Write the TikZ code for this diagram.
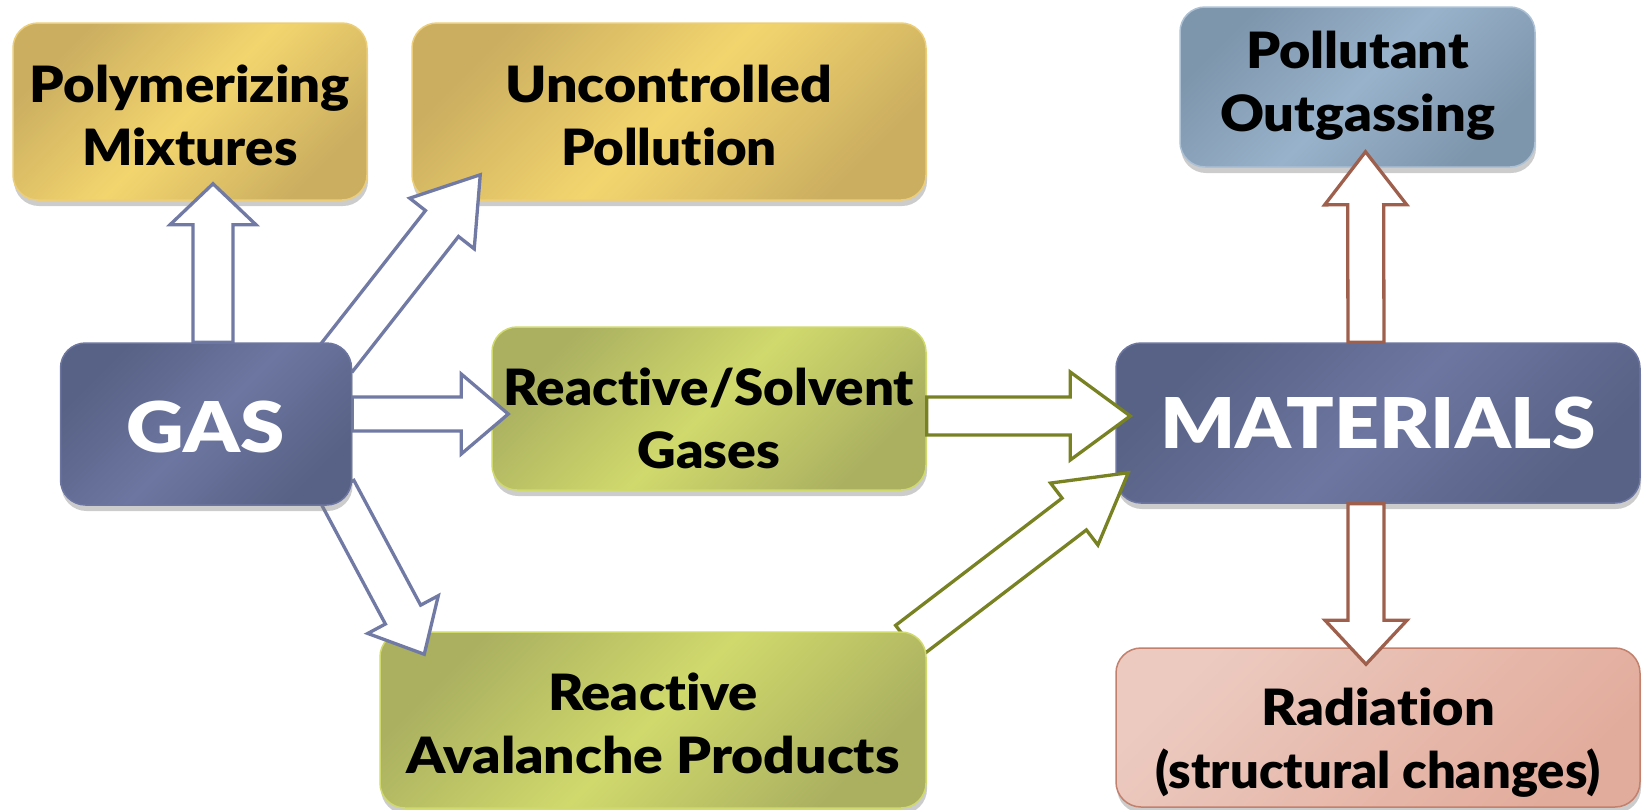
\documentclass[tikz,border=0pt]{standalone}
\usepackage{fontspec}
\usepackage{graphicx}
\setmainfont{Lato}[BoldFont={Lato Black}, Ligatures=NoCommon]
\usepackage{tikz}
\usetikzlibrary{calc, shadows, positioning}

\pgfdeclarelayer{back}
\pgfdeclarelayer{front}
\pgfsetlayers{back,main,front}

\definecolor{goldmid}{RGB}{243,213,110}
\definecolor{goldedge}{RGB}{203,174,96}
\definecolor{goldline}{RGB}{236,206,122}
\definecolor{slatemid}{RGB}{108,118,160}
\definecolor{slateedge}{RGB}{88,98,134}
\definecolor{limemid}{RGB}{208,217,108}
\definecolor{limeedge}{RGB}{170,176,96}
\definecolor{skymid}{RGB}{152,178,203}
\definecolor{skyedge}{RGB}{126,150,172}
\definecolor{rosemid}{RGB}{226,172,156}
\definecolor{roseedge}{RGB}{236,202,192}
\definecolor{roseline}{RGB}{195,128,108}
\definecolor{slatearrow}{RGB}{112,122,165}
\definecolor{olivearrow}{RGB}{120,130,34}
\definecolor{brownarrow}{RGB}{158,96,76}

\newlength\tdrop
\newlength\capht
% one line of box text, squeezed to a width, drawn \tdrop lower
\newcommand{\fitw}[2]{\raisebox{-\tdrop}[\capht][0pt]{\resizebox{#1}{\height}{#2}}}
% fat outlined arrow: colour, from, to, half shaft, half head, head length
\newcommand{\fatarrow}[6]{%
  \coordinate (s) at (#2);
  \coordinate (e) at (#3);
  \coordinate (hb) at ($(e)!#6!(s)$);
  \draw[fatline, draw=#1] ($(s)!#4!90:(e)$) -- ($(hb)!#4!-90:(s)$) -- ($(hb)!#5!-90:(s)$)
    -- (e) -- ($(hb)!#5!90:(s)$) -- ($(hb)!#4!90:(s)$) -- ($(s)!#4!-90:(e)$) -- cycle;}

\tikzset{
  box/.style={rounded corners=25pt, align=center, inner sep=0pt, line width=1.5pt,
    font=\fontsize{50pt}{63pt}\selectfont\bfseries\setlength\capht{36pt},
    drop shadow={shadow xshift=1pt, shadow yshift=-6pt, opacity=0.4}},
  textdrop/.style={execute at begin node={\setlength\tdrop{#1}}},
  goldbox/.style={box, draw=goldline, top color=goldedge, bottom color=goldedge, middle color=goldmid, shading angle=45},
  limebox/.style={box, draw=limemid, top color=limeedge, bottom color=limeedge, middle color=limemid, shading angle=45},
  skybox/.style={box, draw=skymid!80!white, top color=skyedge, bottom color=skyedge, middle color=skymid, shading angle=45},
  rosebox/.style={box, draw=roseline, top color=roseedge, bottom color=rosemid, shading angle=45},
  slatebox/.style={box, draw=slatemid, top color=slateedge, bottom color=slateedge, middle color=slatemid,
    shading angle=45, text=white, font=\fontsize{70pt}{80pt}\selectfont\bfseries\setlength\capht{50pt}},
  fatline/.style={line width=3.3pt, fill=white, line join=miter, miter limit=10}
}

\begin{document}
\begin{tikzpicture}[x=1pt, y=-1pt]
\useasboundingbox (0,0) rectangle (1647,809);

\begin{pgfonlayer}{back}
\node[goldbox, textdrop=4pt, minimum width=354pt, minimum height=177pt] (poly) at (190,111.5)
  {\fitw{320pt}{Polymerizing}\\\fitw{215pt}{Mixtures}};
\node[goldbox, textdrop=4pt, minimum width=514pt, minimum height=177pt] (unctrl) at (669,111.5)
  {\fitw{327pt}{Uncontrolled}\\\fitw{216pt}{Pollution}};
\node[skybox, textdrop=-5pt, minimum width=355pt, minimum height=160pt] (outgas) at (1357.5,87)
  {\fitw{223pt}{Pollutant}\\\fitw{275pt}{Outgassing}};
\node[slatebox, minimum width=524pt, minimum height=160pt] (mater) at (1378,423)
  {\fitw{435pt}{MATERIALS}};
\node[rosebox, textdrop=11pt, minimum width=524pt, minimum height=159pt] (radi) at (1378,727.5)
  {\fitw{234pt}{Radiation}\\\fitw{445pt}{(structural changes)}};
\end{pgfonlayer}

\node[limebox, textdrop=10pt, minimum width=434pt, minimum height=163pt] (react) at (709,408.5)
  {\fitw{410pt}{Reactive/Solvent}\\\fitw{143pt}{Gases}};
\node[limebox, textdrop=3.5pt, minimum width=546pt, minimum height=176pt] (aval) at (653,720)
  {\fitw{210pt}{Reactive}\\\fitw{493pt}{Avalanche Products}};

\begin{pgfonlayer}{back}
\fatarrow{olivearrow}{$(aval.north east)+(-19,10)$}{$(mater.south west)+(13,-31)$}{20pt}{39pt}{68pt}
\end{pgfonlayer}

\begin{pgfonlayer}{front}
\node[slatebox, textdrop=3pt, minimum width=291pt, minimum height=162pt] (gas) at (206,424) {\fitw{158pt}{GAS}};
\end{pgfonlayer}

% arrows out of GAS
\fatarrow{slatearrow}{$(gas.north)+(7,0)$}{$(poly.south)+(23,-17)$}{20pt}{43pt}{41pt}
\fatarrow{slatearrow}{$(gas.north east)+(-16,16)$}{$(unctrl.south west)+(69,-26)$}{21pt}{41pt}{62pt}
\fatarrow{slatearrow}{$(gas.east)+(0,-10)$}{$(react.west)+(17,5.5)$}{17pt}{40pt}{47pt}
\fatarrow{slatearrow}{$(gas.south east)+(-16,-16)$}{$(aval.north west)+(45,23)$}{20pt}{40pt}{45pt}

% into and out of MATERIALS
\fatarrow{olivearrow}{$(react.east)+(0,7.5)$}{$(mater.west)+(15,-7)$}{19pt}{44pt}{60pt}
\fatarrow{brownarrow}{$(mater.north)+(-12,0)$}{$(outgas.south)+(8,-16)$}{18pt}{41pt}{53pt}
\fatarrow{brownarrow}{$(mater.south)+(-12,0)$}{$(radi.north)+(-12,17)$}{18pt}{41pt}{44pt}
\end{tikzpicture}
\end{document}
